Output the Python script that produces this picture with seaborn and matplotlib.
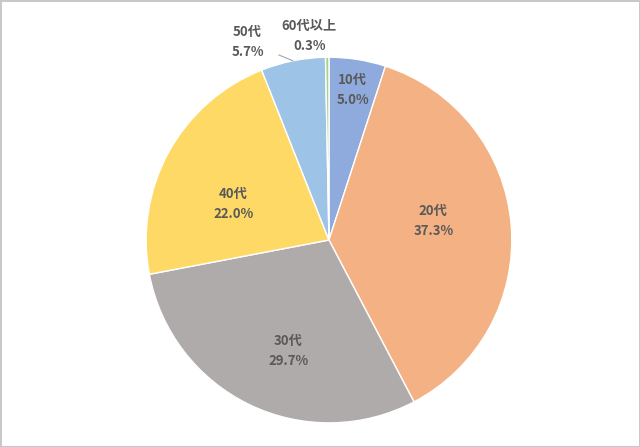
import numpy as np
import matplotlib
matplotlib.use('Agg')
import matplotlib.pyplot as plt
import seaborn as sns

# data
age_groups = ['10代', '20代', '30代', '40代', '50代', '60代以上']
shares = [5.0, 37.3, 29.7, 22.0, 5.7, 0.3]
colors = ['#8FAADC', '#F4B183', '#AFABAB', '#FFD966', '#9DC3E6', '#A9D18E']

# label placement: fraction of radius, angle shift (deg)
label_pos = {'10代': (0.83, 0), '20代': (0.58, 5.5), '30代': (0.645, 5.5),
             '40代': (0.56, 8), '50代': (1.17, 11), '60代以上': (1.12, 5)}

sns.set_theme(style='white')
plt.rcParams['font.family'] = ['Noto Sans CJK JP', 'DejaVu Sans']

fig = plt.figure(figsize=(6.4, 4.47), dpi=100)
fig.patch.set_edgecolor('#c8c8c8')
fig.patch.set_linewidth(2)
ax = fig.add_axes([0.514 - 0.286, 0.463 - 0.409, 0.572, 0.818])

wedges, _ = ax.pie(shares, colors=colors, startangle=90, counterclock=False,
                   wedgeprops=dict(edgecolor='white', linewidth=1.0))
ax.set_aspect('equal')
ax.set_xlim(-1, 1)
ax.set_ylim(-1, 1)

txt_color = '#595959'
for w, name, val in zip(wedges, age_groups, shares):
    mid = np.deg2rad((w.theta1 + w.theta2) / 2 + label_pos[name][1])
    r = label_pos[name][0]
    x, y = r * np.cos(mid), r * np.sin(mid)
    label = f'{name}\n{val:.1f}%'
    if name == '50代':
        m0 = np.deg2rad((w.theta1 + w.theta2) / 2)
        ax.annotate(label, xy=(np.cos(m0), np.sin(m0)), xytext=(x, y),
                    ha='center', va='center', fontsize=9.5, fontweight='bold',
                    color=txt_color, linespacing=1.55, annotation_clip=False,
                    arrowprops=dict(arrowstyle='-', color='#a6a6a6', lw=0.8,
                                    shrinkA=9, shrinkB=0))
    else:
        ax.text(x, y, label, ha='center', va='center', fontsize=9.5,
                fontweight='bold', color=txt_color, linespacing=1.55,
                clip_on=False)

fig.savefig('out.png', dpi=100)
